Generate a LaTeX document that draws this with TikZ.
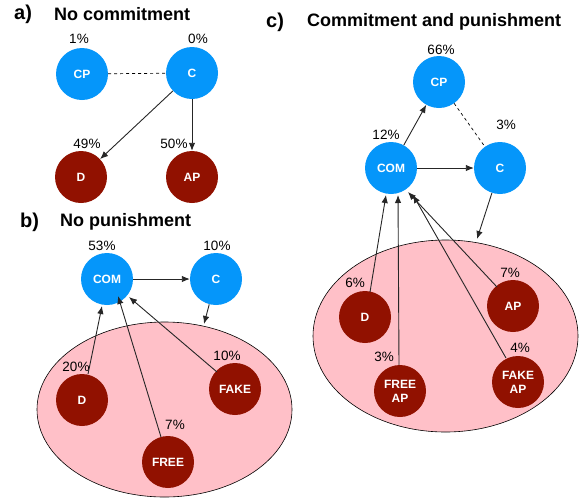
\documentclass[tikz,border=0pt]{standalone}
\usepackage{fontspec}
\setmainfont{Liberation Sans}
\usetikzlibrary{arrows.meta}
\definecolor{cblue}{RGB}{5,150,250}
\definecolor{cred}{RGB}{145,17,0}
\definecolor{cpink}{RGB}{255,192,200}
\begin{document}
\begin{tikzpicture}[x=1pt,y=-1pt,
  bnode/.style={circle,fill=cblue,minimum size=52pt,inner sep=0pt,text=white,font=\bfseries\fontsize{12}{13}\selectfont,align=center},
  rnode/.style={circle,fill=cred,minimum size=52pt,inner sep=0pt,text=white,font=\bfseries\fontsize{12}{14}\selectfont,align=center},
  pct/.style={font=\fontsize{13.5}{14}\selectfont,inner sep=0pt},
  ttl/.style={font=\bfseries\fontsize{18}{19}\selectfont,inner sep=0pt,anchor=west},
  lbl/.style={font=\bfseries\fontsize{20}{21}\selectfont,inner sep=0pt,anchor=west},
  arr/.style={-{Latex[length=8pt,width=6.5pt]},line width=0.9pt,draw=black!85},
  dsh/.style={dashed,line width=0.7pt}]
\useasboundingbox (0,0) rectangle (585,501);
% ---------- a)
\node[lbl] (la) at (14,14) {a)};
\node[ttl] (ta) at (54,14) {No commitment};
\node[bnode] (aCP) at (82,74) {CP};
\node[bnode] (aC) at (192,73) {C};
\node[rnode] (aD) at (81,177) {D};
\node[rnode] (aAP) at (192,177) {AP};
\node[pct] (paCP) at (79,39) {1\%};
\node[pct] (paC) at (198,39) {0\%};
\node[pct] (paD) at (87,144) {49\%};
\node[pct] (paAP) at (174,144) {50\%};
\draw[dsh] (aCP) -- (aC);
\draw[arr] (aC) -- (aD);
\draw[arr] (aC) -- (aAP);
% ---------- b)
\node[lbl] (lb) at (20,222) {b)};
\node[ttl] (tb) at (60,222) {No punishment};
\draw[fill=cpink,line width=0.6pt] (164.5,409.5) ellipse [x radius=127.5,y radius=87.5];
\coordinate (eb) at (204,324);
\node[bnode] (bCOM) at (107,279) {COM};
\node[bnode] (bC) at (216,279) {C};
\node[rnode] (bD) at (82,400) {D};
\node[rnode] (bFAKE) at (235,389) {FAKE};
\node[rnode] (bFREE) at (168,462) {FREE};
\node[pct] (pbCOM) at (102,246) {53\%};
\node[pct] (pbC) at (217,246) {10\%};
\node[pct] (pbD) at (76,367) {20\%};
\node[pct] (pbFAKE) at (227,356) {10\%};
\node[pct] (pbFREE) at (175,425) {7\%};
\draw[arr] (bCOM) -- (bC);
\draw[arr] (bC) -- (eb);
\coordinate (bDs) at (88,374);
\coordinate (bDe) at (102,306);
\coordinate (bFs) at (161,437);
\coordinate (bFe) at (118,296);
\coordinate (bKs) at (217,372);
\coordinate (bKe) at (129,297);
\draw[arr] (bDs) -- (bDe);
\draw[arr] (bFs) -- (bFe);
\draw[arr] (bKs) -- (bKe);
% ---------- c)
\node[lbl] (lc) at (266,22) {c)};
\node[ttl] (tc) at (307,22) {Commitment and punishment};
\draw[fill=cpink,line width=0.6pt] (445.5,336) ellipse [x radius=132.5,y radius=96];
\coordinate (ec) at (477,239);
\node[bnode] (cCP) at (439,82) {CP};
\node[bnode] (cCOM) at (391,168) {COM};
\node[bnode] (cC) at (500,168) {C};
\node[rnode] (cD) at (365,317) {D};
\node[rnode] (cAP) at (513,306) {AP};
\node[rnode] (cFREE) at (400,391) {FREE\\AP};
\node[rnode] (cFAKE) at (518,382) {FAKE\\AP};
\node[pct] (pcCP) at (441,50) {66\%};
\node[pct] (pcCOM) at (386,135) {12\%};
\node[pct] (pcC) at (506,125) {3\%};
\node[pct] (pcD) at (355,283) {6\%};
\node[pct] (pcAP) at (510,273) {7\%};
\node[pct] (pcFREE) at (384,357) {3\%};
\node[pct] (pcFAKE) at (520,348) {4\%};
\draw[arr] (cCOM) -- (cCP);
\draw[arr] (cCOM) -- (cC);
\draw[dsh] (cCP) -- (cC);
\draw[arr] (cC) -- (ec);
\coordinate (cDs) at (370,292);
\coordinate (cFs) at (399,365);
\coordinate (cAs) at (497,287);
\coordinate (cKs) at (506,358);
\coordinate (cDe) at (386,195);
\coordinate (cFe) at (398,195);
\coordinate (cAe) at (408,192);
\coordinate (cKe) at (413,195);
\draw[arr] (cDs) -- (cDe);
\draw[arr] (cFs) -- (cFe);
\draw[arr] (cAs) -- (cAe);
\draw[arr] (cKs) -- (cKe);
\end{tikzpicture}
\end{document}
